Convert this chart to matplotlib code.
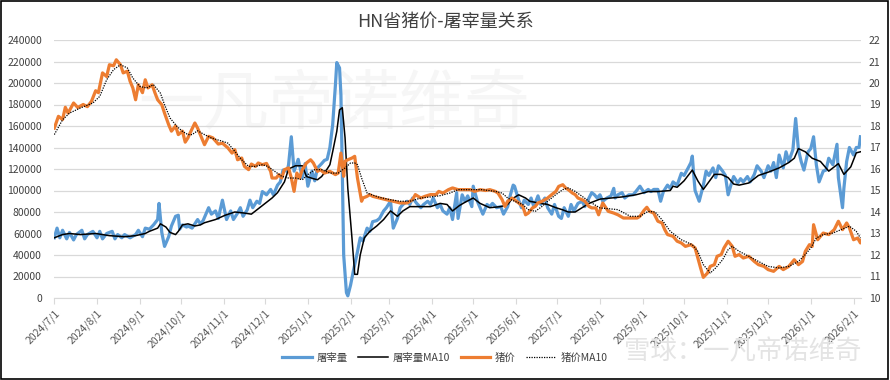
import numpy as np
import pandas as pd
import matplotlib
matplotlib.use('Agg')
import matplotlib.pyplot as plt
from matplotlib.patches import Rectangle

plt.rcParams['font.family'] = ['Noto Sans CJK SC', 'DejaVu Sans']

start = pd.Timestamp('2024-07-01')

# (days since 2024/7/1, value)
kill_pts = [
    (0, 56000), (2, 65000), (4, 56000), (6, 63000), (9, 55000), (11, 61000), (14, 54000),
    (16, 59000), (20, 63000), (22, 55000), (24, 59000), (28, 62000), (31, 56000), (33, 62000),
    (35, 55000), (38, 60000), (42, 62000), (44, 55000), (46, 59000), (49, 56000), (51, 59000),
    (55, 56000), (59, 59000), (61, 63000), (64, 57000), (66, 65000), (69, 64000), (72, 68000),
    (75, 73000), (76, 88000), (78, 61000), (80, 48000), (83, 57000), (85, 67000), (88, 76000),
    (90, 77000), (91, 64000), (93, 68000), (96, 66000), (97, 67000), (100, 65000), (104, 73000),
    (106, 69000), (108, 72000), (112, 84000), (114, 78000), (117, 81000), (119, 74000),
    (122, 91000), (125, 73000), (128, 81000), (130, 73000), (133, 79000), (135, 84000),
    (137, 76000), (140, 82000), (142, 91000), (144, 84000), (147, 90000), (149, 88000),
    (151, 99000), (154, 96000), (157, 101000), (159, 96000), (162, 105000), (164, 108000),
    (166, 119000), (169, 118000), (170, 124000), (172, 150000), (174, 118000), (177, 129000),
    (180, 112000), (182, 125000), (184, 104000), (187, 118000), (189, 109000), (191, 121000),
    (194, 125000), (196, 128000), (198, 129000), (200, 140000), (202, 161000), (204, 198000),
    (205, 219000), (207, 214000), (208, 189000), (209, 118000), (210, 40000), (212, 5000),
    (213, 2000), (215, 12000), (217, 25000), (220, 43000), (222, 56000), (224, 53000),
    (227, 65000), (229, 62000), (231, 71000), (234, 72000), (236, 74000), (239, 81000),
    (241, 84000), (244, 90000), (246, 65000), (249, 74000), (251, 84000), (253, 87000),
    (256, 90000), (258, 87000), (260, 93000), (263, 88000), (266, 84000), (268, 87000),
    (271, 90000), (273, 87000), (275, 93000), (278, 84000), (280, 87000), (282, 81000),
    (285, 78000), (287, 84000), (289, 73000), (292, 98000), (293, 74000), (296, 96000),
    (298, 90000), (300, 95000), (303, 85000), (304, 104000), (307, 90000), (309, 84000),
    (311, 78000), (314, 87000), (316, 85000), (318, 88000), (321, 84000), (324, 85000),
    (326, 78000), (329, 85000), (331, 96000), (333, 105000), (334, 104000), (337, 91000),
    (339, 84000), (341, 91000), (344, 87000), (346, 93000), (348, 85000), (351, 95000),
    (353, 87000), (356, 93000), (358, 84000), (361, 78000), (363, 87000), (366, 76000),
    (368, 74000), (370, 84000), (373, 76000), (375, 87000), (377, 81000), (380, 88000),
    (383, 90000), (385, 85000), (388, 93000), (390, 98000), (392, 96000), (394, 93000),
    (396, 96000), (398, 90000), (401, 93000), (404, 95000), (406, 102000), (407, 93000),
    (409, 96000), (412, 98000), (414, 93000), (417, 96000), (420, 96000), (422, 99000),
    (425, 104000), (428, 98000), (431, 101000), (433, 99000), (435, 101000), (438, 101000),
    (440, 90000), (442, 99000), (445, 105000), (447, 102000), (449, 108000), (452, 105000),
    (455, 116000), (457, 114000), (460, 121000), (462, 126000), (463, 132000), (464, 115000),
    (465, 100000), (468, 90000), (471, 105000), (473, 118000), (475, 114000), (478, 121000),
    (480, 112000), (482, 123000), (485, 118000), (487, 114000), (489, 96000), (491, 105000),
    (493, 113000), (496, 107000), (498, 111000), (500, 108000), (503, 113000), (505, 108000),
    (508, 115000), (510, 123000), (513, 118000), (515, 112000), (518, 123000), (520, 118000),
    (522, 126000), (524, 112000), (526, 133000), (529, 121000), (531, 136000), (533, 127000),
    (536, 138000), (538, 167000), (540, 138000), (542, 127000), (544, 119000), (547, 136000),
    (549, 139000), (551, 150000), (553, 124000), (555, 108000), (558, 118000), (560, 119000),
    (562, 130000), (565, 124000), (568, 143000), (569, 112000), (572, 84000), (573, 102000),
    (575, 127000), (577, 140000), (580, 133000), (582, 140000), (584, 140000), (585, 150000),
]

kill_ma_pts = [
    (0, 56000), (6, 59000), (11, 60000), (19, 59000), (30, 60000), (40, 58000), (51, 57000),
    (59, 58000), (66, 60000), (69, 62000), (75, 65000), (77, 69000), (81, 66000), (84, 61000),
    (88, 59000), (90, 62000), (93, 68000), (97, 69000), (102, 67000), (106, 68000), (109, 70000),
    (117, 73000), (124, 77000), (131, 80000), (138, 79000), (143, 78000), (147, 82000),
    (151, 86000), (154, 89000), (158, 93000), (162, 98000), (167, 108000), (170, 120000),
    (175, 123000), (180, 123000), (183, 113000), (188, 111000), (191, 110000), (194, 113000),
    (198, 120000), (200, 124000), (202, 136000), (205, 155000), (207, 175000), (209, 177000),
    (211, 149000), (213, 102000), (216, 56000), (218, 22000), (220, 22000), (222, 40000),
    (225, 56000), (229, 62000), (234, 67000), (239, 73000), (244, 81000), (249, 76000),
    (253, 81000), (258, 85000), (266, 85000), (273, 85000), (280, 88000), (285, 87000),
    (289, 81000), (294, 86000), (298, 89000), (304, 93000), (309, 88000), (316, 84000),
    (324, 85000), (329, 87000), (332, 92000), (337, 96000), (342, 93000), (345, 90000),
    (353, 88000), (358, 87000), (364, 84000), (369, 82000), (373, 80000), (378, 80000),
    (383, 84000), (388, 88000), (392, 90000), (396, 92000), (404, 93000), (412, 94000),
    (422, 96000), (431, 99000), (438, 99000), (447, 100000), (449, 104000), (452, 103000),
    (457, 109000), (460, 114000), (463, 119000), (467, 109000), (471, 101000), (475, 108000),
    (479, 115000), (484, 115000), (489, 112000), (493, 106000), (497, 105000), (504, 107000),
    (511, 114000), (518, 117000), (526, 121000), (533, 126000), (537, 130000), (540, 139000),
    (545, 136000), (550, 130000), (556, 127000), (562, 118000), (569, 125000), (573, 115000),
    (578, 122000), (582, 135000), (585, 136000),
]

price_pts = [
    (0, 17.9), (3, 18.45), (6, 18.3), (8, 18.87), (10, 18.6), (14, 19.07), (17, 18.86),
    (21, 19.0), (24, 18.9), (27, 19.15), (30, 19.64), (32, 19.55), (35, 20.47), (38, 20.3),
    (40, 20.85), (43, 20.8), (45, 21.08), (48, 20.85), (50, 20.47), (53, 20.55), (55, 20.08),
    (57, 19.77), (59, 19.22), (61, 19.92), (64, 19.55), (66, 20.15), (68, 19.77), (71, 19.92),
    (73, 19.55), (75, 19.22), (78, 18.99), (80, 18.6), (83, 18.06), (85, 17.76), (88, 18.0),
    (90, 17.6), (93, 17.76), (95, 17.25), (97, 17.45), (98, 17.6), (102, 18.14), (104, 17.9),
    (107, 17.44), (109, 17.13), (112, 17.52), (115, 17.45), (119, 17.16), (122, 17.2),
    (126, 16.98), (129, 16.74), (131, 16.9), (133, 16.43), (136, 16.51), (138, 16.12),
    (141, 15.97), (143, 16.23), (146, 16.12), (148, 16.28), (151, 16.2), (154, 16.26),
    (157, 15.89), (158, 15.58), (161, 15.58), (163, 15.74), (165, 15.58), (167, 15.97),
    (170, 16.05), (172, 15.58), (174, 14.96), (176, 15.81), (178, 15.58), (180, 15.97),
    (183, 16.28), (186, 16.43), (188, 16.28), (191, 15.89), (193, 15.97), (196, 15.81),
    (200, 15.89), (204, 15.74), (206, 15.81), (208, 16.74), (210, 15.66), (211, 16.36),
    (213, 16.43), (216, 16.51), (218, 16.59), (220, 15.58), (223, 14.5), (224, 14.65),
    (227, 14.73), (229, 14.81), (231, 14.73), (236, 14.65), (241, 14.57), (246, 14.5),
    (251, 14.42), (256, 14.42), (260, 14.57), (262, 14.81), (266, 14.65), (269, 14.73),
    (273, 14.81), (277, 14.81), (279, 14.96), (282, 14.88), (286, 15.04), (289, 15.12),
    (293, 15.04), (298, 15.04), (302, 15.04), (305, 14.96), (309, 15.04), (313, 15.0),
    (316, 15.04), (320, 14.96), (322, 14.88), (325, 14.57), (327, 14.26), (329, 14.5),
    (332, 14.65), (334, 14.57), (337, 14.42), (340, 14.26), (342, 13.87), (344, 13.95),
    (347, 14.19), (349, 14.26), (351, 14.42), (354, 14.5), (356, 14.57), (358, 14.65),
    (361, 14.81), (364, 14.96), (366, 15.19), (369, 15.27), (371, 15.12), (373, 15.04),
    (376, 14.88), (378, 14.81), (380, 14.65), (383, 14.57), (385, 14.5), (388, 14.26),
    (390, 14.19), (393, 14.19), (395, 13.87), (398, 14.42), (402, 14.03), (406, 13.95),
    (409, 13.87), (413, 13.72), (418, 13.72), (423, 13.72), (425, 13.8), (428, 14.08),
    (430, 14.22), (432, 14.03), (435, 13.95), (438, 13.57), (441, 13.49), (443, 13.18),
    (445, 12.95), (449, 12.87), (452, 12.64), (455, 12.56), (458, 12.4), (462, 12.48),
    (465, 12.33), (467, 11.86), (469, 11.4), (471, 10.96), (474, 11.16), (476, 11.47),
    (479, 11.55), (481, 11.94), (484, 12.02), (486, 12.33), (489, 12.64), (490, 12.56),
    (492, 12.4), (494, 11.94), (497, 12.02), (500, 11.86), (504, 11.94), (508, 11.7),
    (511, 11.55), (515, 11.47), (518, 11.32), (522, 11.24), (526, 11.47), (529, 11.32),
    (533, 11.47), (537, 11.78), (540, 11.55), (543, 11.7), (545, 12.17), (548, 12.48),
    (550, 12.4), (551, 13.41), (554, 12.71), (556, 12.87), (558, 13.02), (562, 12.95),
    (566, 13.18), (569, 13.57), (572, 13.18), (575, 13.49), (577, 13.26), (580, 12.71),
    (583, 12.79), (585, 12.56), (586, 12.71),
]

price_ma_pts = [
    (0, 17.6), (6, 18.29), (11, 18.6), (19, 18.84), (28, 19.07), (33, 19.38), (38, 20.15),
    (43, 20.62), (48, 20.85), (53, 20.7), (57, 20.23), (62, 19.84), (67, 19.77), (72, 19.92),
    (77, 19.53), (80, 18.99), (84, 18.37), (89, 17.98), (93, 17.75), (97, 17.6), (100, 17.6),
    (104, 17.78), (109, 17.6), (114, 17.44), (122, 17.29), (126, 17.2), (131, 16.82),
    (136, 16.43), (141, 16.12), (146, 16.12), (151, 16.2), (155, 16.12), (160, 15.89),
    (165, 15.66), (170, 15.58), (175, 15.58), (180, 15.5), (184, 15.74), (189, 15.97),
    (194, 15.97), (200, 15.81), (206, 15.81), (211, 16.05), (215, 16.28), (218, 16.28),
    (220, 16.2), (223, 15.58), (227, 14.88), (230, 14.81), (236, 14.68), (244, 14.57),
    (251, 14.5), (258, 14.5), (266, 14.65), (273, 14.7), (280, 14.76), (287, 14.88),
    (293, 15.04), (300, 15.04), (310, 15.04), (320, 14.96), (325, 14.88), (329, 14.65),
    (334, 14.5), (340, 14.34), (344, 14.11), (349, 14.03), (354, 14.26), (358, 14.5),
    (364, 14.81), (369, 15.04), (373, 15.12), (378, 14.96), (383, 14.73), (388, 14.5),
    (392, 14.34), (396, 14.19), (409, 14.11), (418, 13.8), (425, 13.8), (431, 14.03),
    (436, 14.0), (441, 13.64), (447, 13.1), (455, 12.71), (463, 12.48), (467, 12.17),
    (471, 11.55), (476, 11.16), (480, 11.4), (485, 11.78), (489, 12.25), (492, 12.4),
    (497, 12.17), (504, 11.94), (511, 11.7), (518, 11.47), (526, 11.4), (533, 11.47),
    (540, 11.7), (545, 12.02), (549, 12.33), (553, 12.79), (558, 12.95), (565, 13.02),
    (571, 13.18), (577, 13.34), (582, 13.1), (585, 12.79),
]

month_ticks = pd.date_range('2024-07-01', '2026-02-01', freq='MS')


def unpack(pts):
    d, v = zip(*pts)
    return start + pd.to_timedelta(list(d), unit='D'), np.array(v)


fig = plt.figure(figsize=(8.9, 3.8), dpi=100)

# watermarks (behind the plot)
fig.text(0.375, 1 - 105 / 380, '一凡帝诺维奇', ha='center', va='center', fontsize=47,
         color='#f6f6f6', zorder=0)

ax1 = fig.add_axes([54.3 / 890, 82 / 380, 806.4 / 890, 258 / 380], zorder=1)
ax1.patch.set_alpha(0)
ax2 = ax1.twinx()

x, y = unpack(kill_pts)
l1, = ax1.plot(x, y, color='#5b9bd5', lw=2.3, solid_joinstyle='round', label='屠宰量')
x, y = unpack(kill_ma_pts)
l2, = ax1.plot(x, y, color='black', lw=1.1, label='屠宰量MA10')
x, y = unpack(price_pts)
l3, = ax2.plot(x, y, color='#ed7d31', lw=2.3, solid_joinstyle='round', label='猪价')
x, y = unpack(price_ma_pts)
l4, = ax2.plot(x, y, color='black', lw=0.9, ls=(0, (1, 1)), label='猪价MA10')

ax1.set_xlim(start, start + pd.Timedelta(days=585.2))
ax1.set_ylim(0, 240000)
ax2.set_ylim(10, 22)
ax1.set_yticks(range(0, 240001, 20000))
ax2.set_yticks(range(10, 23))
ax1.grid(axis='y', color='#d9d9d9', lw=0.9)
ax1.set_axisbelow(True)

ax1.set_xticks(month_ticks)
ax1.set_xticklabels([f'{d.year}/{d.month}/1' for d in month_ticks], rotation=45,
                    ha='right', va='top', rotation_mode='anchor')

for ax in (ax1, ax2):
    for s in ax.spines.values():
        s.set_visible(False)
ax1.spines['bottom'].set_visible(True)
ax1.spines['bottom'].set_color('#d9d9d9')
ax1.tick_params(axis='x', length=4, color='#d9d9d9', labelsize=7.5, labelcolor='#595959', pad=3)
ax1.tick_params(axis='y', length=0, labelsize=7.5, labelcolor='#404040', pad=9)
ax2.tick_params(axis='y', length=0, labelsize=7.5, labelcolor='#404040', pad=6)

fig.text(0.5, 1 - 22 / 380, 'HN省猪价-屠宰量关系', ha='center', va='center',
         fontsize=13, color='#404040')

fig.legend(handles=[l1, l2, l3, l4], loc='center', bbox_to_anchor=(0.5, 1 - 358 / 380),
           ncol=4, frameon=False, fontsize=7.5, handlelength=2.8, columnspacing=1.0,
           handletextpad=0.5, labelcolor='#404040')

fig.text(0.835, 1 - 352 / 380, '雪球：一凡帝诺维奇', ha='center', va='center', fontsize=19,
         color='#e4e4e4', zorder=5)

fig.patches.append(Rectangle((0.001, 0.002), 0.997, 0.995, transform=fig.transFigure,
                             fill=False, edgecolor='black', lw=1.2))

fig.savefig('out.png', dpi=100)
